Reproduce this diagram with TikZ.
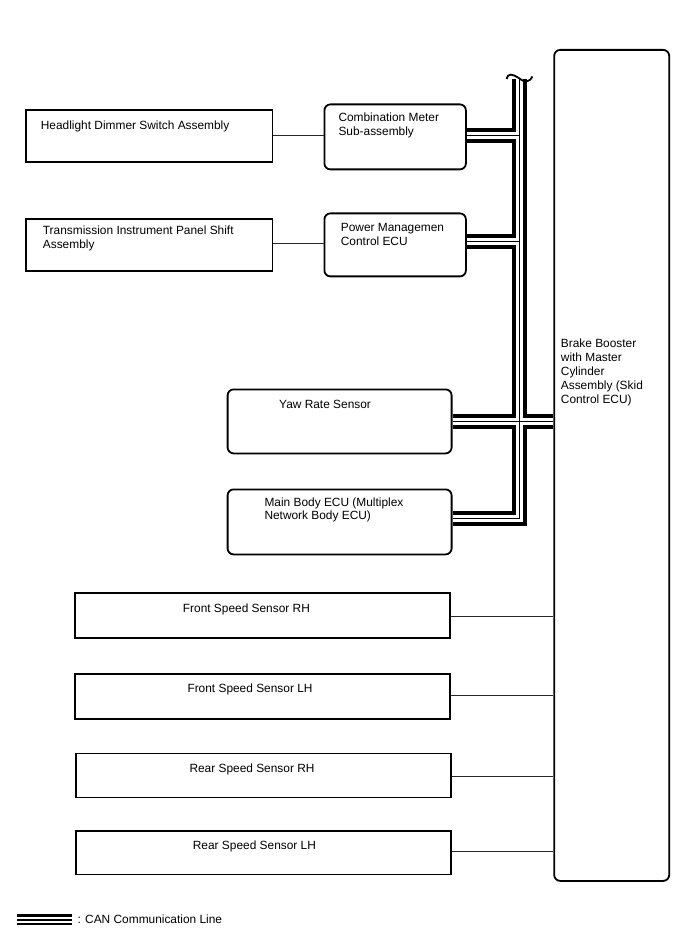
\documentclass[tikz,border=0pt]{standalone}
\usepackage{fontspec}
\setmainfont{Liberation Sans}
\usetikzlibrary{positioning,calc}

\begin{document}
\begin{tikzpicture}[x=1pt,y=-1pt,
    every node/.style={font=\fontsize{11.9}{13.8}\selectfont},
    ecu/.style={draw, line width=1.8pt, rounded corners=6pt, anchor=north west, inner sep=0pt},
    part/.style={draw, line width=1.8pt, anchor=north west, inner sep=0pt},
    txt/.style={anchor=north west, inner sep=0pt, align=left},
    wire/.style={line width=0.9pt, black!85}]
    \useasboundingbox (0,0) rectangle (688,949);

    % Boxes
    \node[part, minimum width=246.5pt, minimum height=52pt] (hds) at (25,109.5) {};
    \node[ecu, minimum width=141.5pt, minimum height=65pt] (cmb) at (323.5,103.5) {};
    \node[part, minimum width=246.5pt, minimum height=51.5pt] (tps) at (25,218.5) {};
    \node[ecu, minimum width=141.5pt, minimum height=63pt] (pmc) at (323.5,212.5) {};
    \node[ecu, minimum width=224pt, minimum height=64pt] (yaw) at (226.7,388.5) {};
    \node[ecu, minimum width=224pt, minimum height=65pt] (mbe) at (226.7,488.5) {};
    \node[part, minimum width=375pt, minimum height=44.7pt] (fsr) at (74,592) {};
    \node[part, minimum width=375pt, minimum height=44.7pt] (fsl) at (74,673) {};
    \node[part, minimum width=375pt, minimum height=44pt] (rsr) at (75,752.5) {};
    \node[part, minimum width=375pt, minimum height=43.5pt] (rsl) at (75,830) {};
    \node[ecu, minimum width=115pt, minimum height=831pt] (skid) at (553.3,49) {};

    % Texts
    \node[txt] (hds-t) at (40.7,121) {Headlight Dimmer Switch Assembly};
    \node[txt] (cmb-t) at (338.3,112.7) {Combination Meter\\Sub-assembly};
    \node[txt] (tps-t) at (42.7,225.7) {Transmission Instrument Panel Shift\\Assembly};
    \node[txt] (pmc-t) at (340.7,223.3) {Power Managemen\\Control ECU};
    \node[txt] (yaw-t) at (279,400) {Yaw Rate Sensor};
    \node[txt] (mbe-t) at (264.3,497.3) {Main Body ECU (Multiplex\\Network Body ECU)};
    \node[txt] (fsr-t) at (182.7,603.3) {Front Speed Sensor RH};
    \node[txt] (fsl-t) at (187.3,684) {Front Speed Sensor LH};
    \node[txt] (rsr-t) at (189.3,764) {Rear Speed Sensor RH};
    \node[txt] (rsl-t) at (192.7,841) {Rear Speed Sensor LH};
    \node[txt] (skid-t) at (560.7,339) {Brake Booster\\with Master\\Cylinder\\Assembly (Skid\\Control ECU)};

    % Direct wires
    \draw[wire] (hds.east |- 0,135) -- (cmb.west |- 0,135);
    \draw[wire] (tps.east |- 0,243.3) -- (pmc.west |- 0,243.3);
    \foreach \n/\y in {fsr/616.7, fsl/695.7, rsr/776.7, rsl/851.7}
        \draw[wire] (\n.east |- 0,\y) -- (skid.west |- 0,\y);

    % CAN bus
    \coordinate (bus-top) at (519.5,79);
    \coordinate (bus-bot) at (519.5,518.3);
    \foreach \w/\c in {15pt/black, 7.5pt/white, 1.4pt/black} {
        \draw[line width=\w, \c] (bus-top) -- (bus-bot) -- (mbe.east |- bus-bot);
        \draw[line width=\w, \c] (cmb.east |- 0,135.3) -- (bus-top |- 0,135.3);
        \draw[line width=\w, \c] (pmc.east |- 0,241.7) -- (bus-top |- 0,241.7);
        \draw[line width=\w, \c] (yaw.east) -- (yaw.east -| skid.west);
    }
    % break mark
    \draw[line width=1.8pt] (506.5,79) .. controls (508,73) and (512,73.5) .. (519.5,78.5)
        .. controls (525,83) and (530,82) .. (532.5,76.5);

    % Legend
    \coordinate (leg-a) at (17,919.5);
    \coordinate (leg-b) at (72,919.5);
    \foreach \w/\c in {11pt/black, 6pt/white, 2pt/black}
        \draw[line width=\w, \c] (leg-a) -- (leg-b);
    \node[txt] (leg-t) at (77.3,915) {: CAN Communication Line};
\end{tikzpicture}
\end{document}
